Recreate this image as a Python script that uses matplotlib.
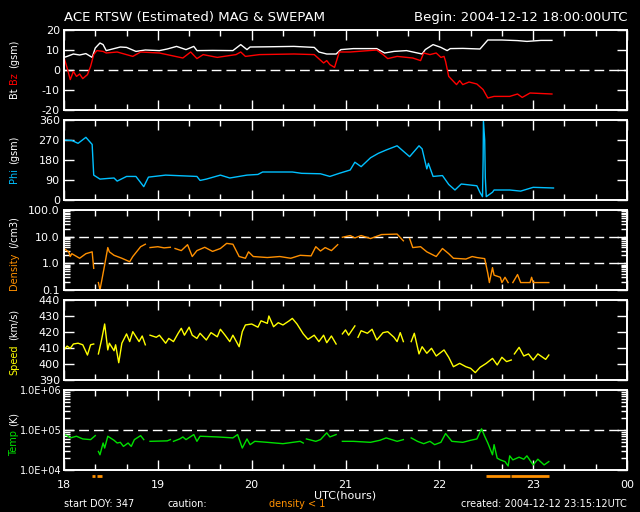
import numpy as np
import matplotlib
matplotlib.use('Agg')
import matplotlib.pyplot as plt
import matplotlib.transforms as mtransforms
from matplotlib.ticker import MultipleLocator, NullLocator, NullFormatter, LogLocator

nan = np.nan

# time axis: minutes after 2004-12-12 18:00 UTC
bt_min = [0, 2, 6, 10, 14, 18, 20, 23, 25, 27, 32, 36, 40, 46, 52, 61, 66, 72, 78, 83,
          85, 95, 108, 113, 117, 119, 130, 147, 160, 163, 168, 174, 177, 185, 200, 205, 211, 219, 229, 231,
          236, 241, 245, 247, 255, 266, 271, 280, 290, 296, 305, 312]
bt_val = [6.3, 6.8, 8.0, 7.5, 8.2, 6.3, 11.0, 13.5, 12.7, 9.7, 10.7, 11.5, 11.3, 9.3, 10.0, 9.7, 10.5, 11.8, 10.2, 11.8,
          9.7, 9.8, 9.7, 12.7, 10.2, 11.5, 11.6, 11.8, 11.3, 9.0, 8.0, 8.0, 10.2, 10.7, 10.7, 8.5, 9.3, 9.7, 8.0, 10.2,
          12.7, 11.3, 9.7, 10.7, 10.8, 10.5, 15.0, 15.0, 14.7, 14.3, 14.8, 14.8]

bz_min = [0, 2, 4, 6, 8, 10, 12, 15, 17, 19, 21, 25, 27, 34, 44, 49, 61, 76, 81, 85,
          89, 98, 110, 113, 116, 125, 147, 160, 166, 168, 170, 173, 176, 183, 200, 204, 207, 213, 223, 228,
          230, 234, 238, 241, 243, 244, 246, 251, 253, 255, 259, 264, 268, 271, 275, 285, 290, 293, 298, 312]
bz_val = [6.3, 1.0, -4.8, -0.7, -3.2, -2.0, -4.3, -2.3, 1.8, 7.7, 9.7, 9.3, 8.5, 9.0, 6.8, 9.0, 8.5, 6.0, 9.0, 5.7,
          7.7, 6.3, 7.7, 9.0, 6.8, 7.7, 8.0, 7.7, 3.5, 4.7, 2.7, 1.3, 9.0, 9.0, 10.0, 7.7, 5.7, 6.8, 6.0, 4.7,
          8.5, 7.7, 8.5, 6.3, 6.8, 4.3, -3.2, -7.3, -5.3, -7.3, -6.0, -7.0, -9.8, -14.0, -13.2, -13.2, -12.0, -13.7, -11.5, -12.0]

phi_min = [0, 5, 9, 14, 18, 19, 23, 28, 32, 34, 40, 46, 51, 54, 65, 85, 87, 91, 100, 106,
           117, 124, 127, 146, 152, 164, 170, 176, 183, 186, 190, 196, 201, 206, 213, 221, 227, 229, 232, 233,
           236, 242, 246, 250, 254, 264, 266, 267.6, 268, 268.2, 269, 269.4, 270, 274, 275, 285, 292, 300, 313]
phi_val = [270, 268, 255, 282, 250, 112, 94, 97, 99, 85, 106, 106, 60, 103, 112, 106, 88, 94, 112, 99,
           112, 115, 126, 126, 120, 118, 106, 120, 135, 170, 150, 190, 210, 225, 244, 195, 244, 230, 140, 165,
           106, 110, 70, 45, 72, 64, 34, 15, 180, 355, 270, 100, 15, 35, 45, 45, 40, 57, 54]

den_min = [0, 3, 4, 5, 10, 14, 18, 19, 20, 22, 23, 26, 28, 29, 32, 37, 42, 44, 49, 52,
           54, 55, 60, 64, 68, 70, 71, 75, 79, 82, 85, 90, 95, 100, 104, 108, 112, 116, 118, 121,
           130, 138, 145, 151, 158, 161, 164, 167, 171, 175, 176, 178, 183, 186, 190, 196, 203, 213, 217, 218,
           221, 223, 228, 232, 238, 242, 246, 249, 253, 257, 261, 264, 269, 271, 272, 274, 275, 279, 280, 282,
           284, 285, 287, 290, 292, 298, 299, 300, 310]
den_val = [3.6, 2.7, 1.8, 2.3, 1.55, 2.3, 2.7, 0.65, nan, 0.19, 0.1, 0.87, 3.9, 2.7, 2.0, 1.55, 1.15, 1.8, 4.2, 5.2,
           nan, 3.9, 4.2, 3.8, 4.0, nan, 3.6, 3.0, 5.0, 1.8, 3.0, 4.0, 2.8, 3.6, 5.6, 5.2, 1.8, 1.55, 2.7, 1.8,
           1.65, 1.8, 1.55, 2.0, 1.9, 4.2, 2.9, 3.9, 3.0, 5.0, nan, 9.5, 11, 9, 11, 8.5, 12, 12.5, 7, nan,
           8.5, 3.9, 4.2, 2.7, 1.8, 3.6, 2.3, 1.55, 1.5, 1.45, 1.8, 1.65, 1.5, 0.42, 0.19, 0.69, 0.36, 0.3, 0.19, 0.3,
           0.19, nan, 0.19, 0.38, 0.19, 0.19, 0.3, 0.19, 0.19]

spd_min = [0, 2, 4, 6, 9, 12, 15, 17, 19, 20,
           22, 24, 26, 28, 29, 32, 33, 35, 37, 40, 42, 44, 48, 50, 52, 53,
           55, 59, 61, 65, 67, 70, 73, 75, 77, 80, 82, 85, 87, 91, 94, 98, 100, 103, 106, 108, 112, 114, 116, 120,
           124, 126, 130, 131, 134, 137, 140, 144, 146, 149, 153, 156, 160, 163, 166, 168, 171, 174, 176,
           178, 180, 182, 186, 187,
           188, 190, 194, 197, 200, 204, 207, 211, 213, 215, 217, 218,
           222, 224, 227, 229, 232, 235, 238, 243, 246, 249, 253, 257, 260, 263, 266, 270, 274, 277, 280, 283, 286, 287,
           288, 291, 294, 297, 300, 303, 308, 310]
spd_val = [408.8, 411.2, 409.8, 412.5, 413, 412, 405.6, 412, 412.5, nan,
           406.3, 415, 425, 408.8, 413, 408.3, 412, 400.8, 413, 418.8, 414, 420.2, 414, 417.5, 412, nan,
           418, 416.7, 418, 413, 416, 414, 419.2, 422.3, 418, 423, 418, 416, 419.2, 415, 419.6, 417, 421.7, 418, 414, 418, 410.8, 420.2, 424.4, 425,
           423, 427, 425.4, 430, 423.3, 425.8, 424.4, 427, 428.5, 425, 418.8, 415.4, 418, 414, 418, 413.3, 417.5, 412.5, nan,
           418.8, 421.3, 418, 423.8, nan,
           416.7, 420.8, 419.2, 421.7, 415, 419.6, 420.2, 416.7, 414, 419.6, 414, nan,
           414, 419.2, 406.3, 410.8, 406.7, 409.8, 405, 408.8, 404.2, 398.3, 400.4, 398.3, 397.3, 394.6, 397.9, 400.4, 403.5, 399.4, 404.2, 401.5, 402.5, nan,
           406.3, 410.4, 405, 406.3, 402.5, 406.3, 402.9, 405.6]

tmp_min = [0, 2, 4, 8, 12, 17, 20, 21,
           22, 23, 25, 26, 28, 32, 34, 36, 38, 41, 43, 45, 49, 51, 52,
           55, 66, 68, 69,
           70, 74, 76, 78, 83, 85, 87, 98, 108, 111, 114, 117, 119, 122, 130, 140, 151, 153, 154,
           155, 161, 164, 168, 170, 174, 175,
           178, 185, 196, 202, 206, 213, 217, 218,
           222, 226, 230, 234, 237, 241, 244, 248, 255, 260, 264, 267, 269, 271, 274, 275, 277, 279, 282, 284,
           285, 287, 291, 294, 296, 300, 303, 307, 310]
tmp_val = [76900, 72400, 63500, 69800, 59800, 57500, 72400, nan,
           29100, 24000, 47300, 35400, 69800, 55300, 47300, 49200, 38900, 47300, 38900, 57500, 72400, 57500, nan,
           52100, 53500, 57500, nan,
           52100, 59800, 67100, 57500, 76900, 52100, 69800, 67100, 63500, 76900, 35400, 59800, 43000, 52100, 49200, 45500, 52100, 47300, nan,
           59800, 52100, 57500, 84800, 67100, 76900, nan,
           52100, 52100, 49200, 55300, 63500, 52100, 57500, nan,
           63500, 52100, 45500, 52100, 43000, 49200, 81500, 52100, 49200, 55300, 59800, 107000, 69800, 47300, 24000, 43000, 19700, 17900, 16200, 12600,
           22600, 17900, 20900, 18600, 22600, 13400, 18600, 13400, 16200]

# intervals with density < 1 (minutes after 18:00)
low_den_start = [18, 21, 270, 286]
low_den_end = [20, 24, 285, 310]

hour_labels = ['18', '19', '20', '21', '22', '23', '00']

RED = '#ff0000'
CYAN = '#00c0ff'
ORANGE = '#ff9000'
YELLOW = '#ffff00'
GREEN = '#00e000'


def hrs(m):
    return 18 + np.array(m, dtype=float) / 60.0


fig = plt.figure(figsize=(6.4, 5.12), dpi=100, facecolor='black')
W, H = 640.0, 512.0
renderer = fig.canvas.get_renderer()


def panel(top_px, bot_px):
    return fig.add_axes([64 / W, 1 - bot_px / H, 563 / W, (bot_px - top_px) / H])


def style(ax, log=False):
    ax.set_facecolor('black')
    ax.set_xlim(18, 24)
    ax.xaxis.set_major_locator(MultipleLocator(1))
    ax.xaxis.set_minor_locator(MultipleLocator(1 / 3))
    if log:
        ax.yaxis.set_minor_locator(LogLocator(base=10, subs=np.arange(2, 10)))
        ax.yaxis.set_minor_formatter(NullFormatter())
    else:
        ax.yaxis.set_minor_locator(NullLocator())
    ax.tick_params(which='both', direction='in', top=True, right=True,
                   colors='white', labelsize=8, pad=3)
    ax.tick_params(which='major', length=7, width=1)
    ax.tick_params(which='minor', length=4, width=1)
    ax.set_xticklabels([])
    for s in ax.spines.values():
        s.set_color('white')
        s.set_linewidth(1.4)


dash = (7, 3.6)

# Bt / Bz
ax1 = panel(30, 110)
style(ax1)
ax1.set_ylim(-20, 20)
ax1.set_yticks([-20, -10, 0, 10, 20])
ax1.set_yticklabels(['-20', '-10', '0', '10', '20'])
ax1.axhline(0, color='white', lw=1, dashes=dash)
ax1.plot(hrs(bt_min), bt_val, color='white', lw=1)
ax1.plot(hrs(bz_min), bz_val, color=RED, lw=1)

# Phi
ax2 = panel(120, 200)
style(ax2)
ax2.set_ylim(0, 360)
ax2.set_yticks([0, 90, 180, 270, 360])
ax2.set_yticklabels(['0', '90', '180', '270', '360'])
ax2.plot(hrs(phi_min), phi_val, color=CYAN, lw=1)

# Density
ax3 = panel(210, 290)
ax3.set_yscale('log')
style(ax3, log=True)
ax3.set_ylim(0.1, 100)
ax3.set_yticks([0.1, 1, 10, 100])
ax3.set_yticklabels(['0.1', '1.0', '10.0', '100.0'])
ax3.axhline(1, color='white', lw=1, dashes=dash)
ax3.axhline(10, color='white', lw=1, dashes=dash)
ax3.plot(hrs(den_min), den_val, color=ORANGE, lw=1)

# Speed
ax4 = panel(300, 380)
style(ax4)
ax4.set_ylim(390, 440)
ax4.set_yticks([390, 400, 410, 420, 430, 440])
ax4.set_yticklabels(['390', '400', '410', '420', '430', '440'])
ax4.plot(hrs(spd_min), spd_val, color=YELLOW, lw=1)

# Temperature
ax5 = panel(390, 470)
ax5.set_yscale('log')
style(ax5, log=True)
ax5.set_ylim(1e4, 1e6)
ax5.set_yticks([1e4, 1e5, 1e6])
ax5.set_yticklabels(['1.0E+04', '1.0E+05', '1.0E+06'])
ax5.tick_params(axis='y', which='major', labelsize=7, pad=2)
ax5.axhline(1e5, color='white', lw=1, dashes=dash)
ax5.plot(hrs(tmp_min), tmp_val, color=GREEN, lw=1)
ax5.set_xticks(range(18, 25))
ax5.set_xticklabels(hour_labels)
ax5.tick_params(axis='x', which='major', pad=7)

# density < 1 markers under the last panel
trans = mtransforms.blended_transform_factory(ax5.transData, ax5.transAxes)
for a, b in zip(low_den_start, low_den_end):
    ax5.plot(hrs([a, b]), [-0.075, -0.075], color=ORANGE, lw=2,
             transform=trans, clip_on=False, solid_capstyle='butt')


# y labels: coloured pieces stacked bottom-up, centred on a given pixel row
def ylab(pieces, center_px, gap=4):
    texts = [fig.text(14 / W, 0, t, color=c, rotation=90, ha='center', va='bottom', fontsize=7)
             for t, c in pieces]
    sizes = [t.get_window_extent(renderer).height for t in texts]
    y = (H - center_px) - (sum(sizes) + gap * (len(texts) - 1)) / 2
    for t, s in zip(texts, sizes):
        t.set_position((14 / W, y / H))
        y += s + gap


ylab([('Bt', 'white'), ('Bz', RED), ('(gsm)', 'white')], 69)
ylab([('Phi', CYAN), ('(gsm)', 'white')], 159)
ylab([('Density', ORANGE), ('(/cm3)', 'white')], 253)
ylab([('Speed', YELLOW), ('(km/s)', 'white')], 342)
ylab([('Temp', GREEN), ('(K)', 'white')], 434)

# titles and footer
fig.text(64 / W, 1 - 17 / H, 'ACE RTSW (Estimated) MAG & SWEPAM', color='white',
         fontsize=9.5, ha='left', va='center')
fig.text(627 / W, 1 - 17 / H, 'Begin: 2004-12-12 18:00:00UTC', color='white',
         fontsize=9.5, ha='right', va='center')
fig.text(345 / W, 1 - 495 / H, 'UTC(hours)', color='white', fontsize=8, ha='center', va='center')
fig.text(64 / W, 1 - 504 / H, 'start DOY: 347', color='white', fontsize=7, ha='left', va='center')
fig.text(167 / W, 1 - 504 / H, 'caution:', color='white', fontsize=7, ha='left', va='center')
fig.text(269 / W, 1 - 504 / H, 'density < 1', color=ORANGE, fontsize=7, ha='left', va='center')
fig.text(627 / W, 1 - 504 / H, 'created: 2004-12-12 23:15:12UTC', color='white',
         fontsize=7, ha='right', va='center')

fig.savefig('out.png', dpi=100, facecolor='black')
